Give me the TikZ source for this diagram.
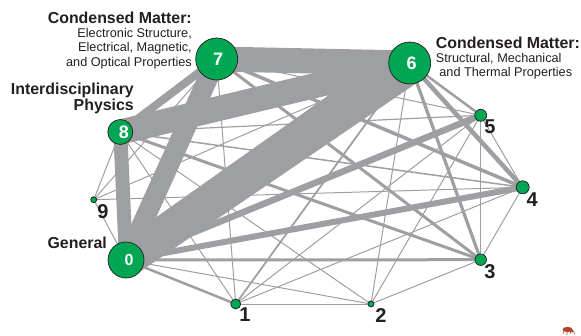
\documentclass[tikz,border=0pt]{standalone}
\usepackage{fontspec}
\setmainfont{Liberation Sans}
\usetikzlibrary{calc}
\pgfdeclarelayer{bg}
\pgfsetlayers{bg,main}
\definecolor{edgegray}{HTML}{9D9FA2}
\definecolor{nodegreen}{HTML}{00A651}
\definecolor{inkdark}{HTML}{231F20}
\definecolor{mite}{HTML}{B5432A}
\newcommand{\shiftdigit}[3]{\raisebox{#2}{\kern #1\relax #3\kern -#1\relax}}
\tikzset{
  vert/.style={circle,draw=inkdark,line width=0.7pt,fill=nodegreen,inner sep=0pt,text=white,font=\bfseries\fontsize{18}{18}\selectfont},
  numlab/.style={text=inkdark,inner sep=0pt,font=\bfseries\fontsize{20}{20}\selectfont},
  headlab/.style={text=inkdark,inner sep=0pt,font=\bfseries\fontsize{15.9}{16.7}\selectfont},
  sublab/.style={text=inkdark,inner sep=0pt,font=\fontsize{12.7}{14.1}\selectfont},
  link/.style={draw=edgegray,line cap=butt}
}
\begin{document}
\begin{tikzpicture}[x=1pt,y=-1pt]
\useasboundingbox (0,0) rectangle (581,335);
\node[vert,minimum size=36pt,font=\bfseries\fontsize{16}{16}\selectfont] (n0) at (126,260) {\shiftdigit{3pt}{0pt}{0}};
\node[vert,minimum size=10pt] (n1) at (235.7,304) {};
\node[vert,minimum size=6pt] (n2) at (371,304) {};
\node[vert,minimum size=11.5pt] (n3) at (480.7,259.7) {};
\node[vert,minimum size=13pt] (n4) at (522.7,187.3) {};
\node[vert,minimum size=12pt] (n5) at (480.7,115.3) {};
\node[vert,minimum size=42pt] (n6) at (409.7,63) {\shiftdigit{2pt}{0pt}{6}};
\node[vert,minimum size=42pt] (n7) at (216.7,59) {\shiftdigit{1.5pt}{-4pt}{7}};
\node[vert,minimum size=25pt] (n8) at (120.3,132) {\shiftdigit{3.5pt}{-1pt}{8}};
\node[vert,minimum size=6pt] (n9) at (93.7,199.7) {};
\node[numlab] (l1) at (245,315) {1};
\node[numlab] (l2) at (381,315.7) {2};
\node[numlab] (l3) at (490,271.7) {3};
\node[numlab] (l4) at (532.3,199.3) {4};
\node[numlab] (l5) at (490,126.7) {5};
\node[numlab] (l9) at (103,211.7) {9};
\node[headlab,anchor=east] (g) at (107,242.7) {General};
\node[headlab,anchor=east,align=right] (ip) at (134,98.3) {Interdisciplinary\\Physics};
\node[headlab,anchor=east] (cm7) at (192,18.3) {Condensed Matter:};
\node[sublab,anchor=east,align=right] (sub7) at (192,48.7) {Electronic Structure,\\Electrical, Magnetic,\\and Optical Properties};
\node[headlab,anchor=west] (cm6) at (435.7,42.7) {Condensed Matter:};
\node[sublab,anchor=west,align=left] (sub6) at (435.7,66) {Structural, Mechanical\\\ and Thermal Properties};
\begin{pgfonlayer}{bg}
\foreach \a/\b/\w in {
 0/1/2.5,0/2/1,0/3/3,0/4/6,0/5/6.5,0/7/20,0/8/14,0/9/1,
 1/2/1,1/4/1,1/5/1,1/6/1.8,1/7/1,1/8/1,
 2/3/1,2/5/1,2/6/1,2/8/1,
 3/4/1,3/5/1.2,3/6/3.2,3/7/3,3/8/3,
 4/5/1,4/6/4.5,4/7/3.5,4/8/1.5,4/9/1,
 5/6/2.5,5/7/1,5/8/1.2,
 6/7/25,6/8/25,6/9/1,
 7/8/8,7/9/1,
 8/9/1}
  \draw[link,line width=\w pt] (n\a.center) -- (n\b.center);
\fill[edgegray] ($(n0.center)!17.5pt!90:(n6.center)$) -- ($(n6.center)!20.5pt!-90:(n0.center)$) -- ($(n6.center)!20.5pt!90:(n0.center)$) -- ($(n0.center)!17.5pt!-90:(n6.center)$) -- cycle;
\end{pgfonlayer}
\fill[mite] (567.5,329.5) ellipse (5pt and 2.6pt);
\fill[mite] (572,331) circle (1.6pt);
\draw[mite,line width=0.6pt] (564,331) -- (563,334) (567,331) -- (567,335) (570,331) -- (571,334) (573,331) -- (575,334);
\end{tikzpicture}
\end{document}
